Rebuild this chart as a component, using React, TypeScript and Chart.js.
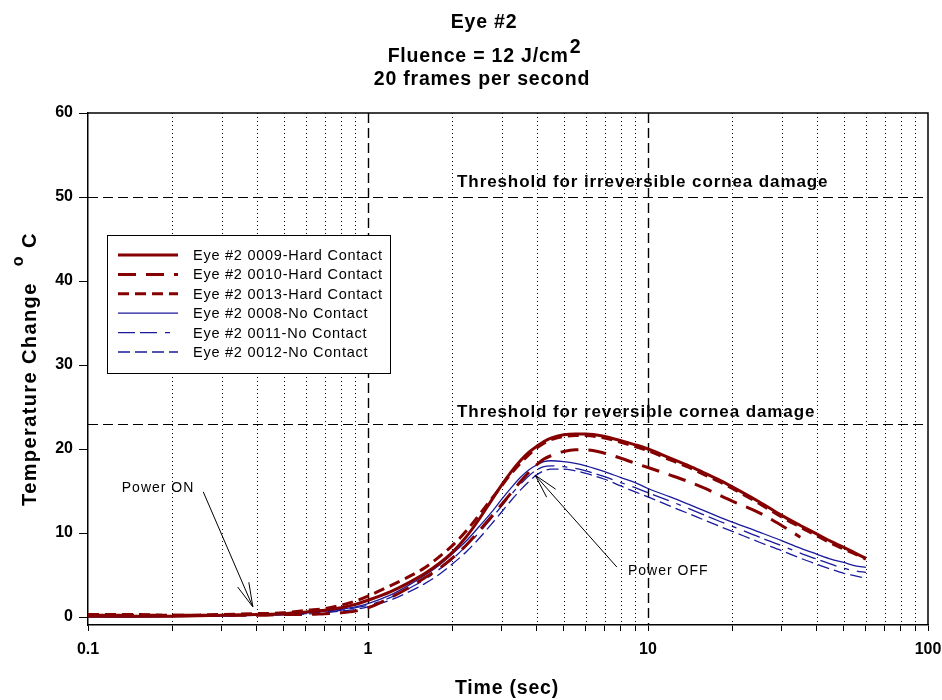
import React, { useEffect, useRef } from 'react';
import { Chart, registerables } from 'chart.js';

Chart.register(...registerables);

const FONT = '"Liberation Sans", Arial, Helvetica, sans-serif';

// ---------- data ----------
const time = [0.1, 0.15, 0.2, 0.3, 0.4, 0.5, 0.6, 0.7, 0.8, 0.9, 1, 1.2, 1.4, 1.6, 1.8, 2, 2.25, 2.5, 2.75, 3, 3.25, 3.5, 3.75, 4, 4.25, 4.5, 5, 5.5, 6, 7, 8, 9, 10, 12, 14, 16, 18, 20, 25, 30, 35, 40, 45, 50, 55, 60];

const hard0009 = [0.1, 0.1, 0.1, 0.2, 0.3, 0.4, 0.6, 0.8, 1.1, 1.5, 2.0, 3.0, 4.1, 5.2, 6.4, 7.7, 9.6, 11.7, 13.8, 15.7, 17.3, 18.6, 19.6, 20.3, 20.9, 21.3, 21.7, 21.8, 21.8, 21.5, 21.0, 20.5, 20.0, 18.9, 18.0, 17.1, 16.3, 15.5, 13.7, 12.1, 10.9, 9.9, 9.0, 8.3, 7.6, 7.0];
const hard0010 = [0.2, 0.2, 0.2, 0.2, 0.2, 0.3, 0.3, 0.4, 0.5, 0.7, 1.1, 2.3, 3.5, 4.7, 5.8, 7.0, 8.6, 10.3, 11.9, 13.4, 14.8, 16.1, 17.2, 18.1, 18.8, 19.2, 19.7, 19.9, 19.9, 19.5, 18.9, 18.3, 17.8, 16.9, 16.1, 15.3, 14.5, 13.8, 12.4, 10.9, 9.5, null, null, null, null, null];
const hard0013 = [0.3, 0.3, 0.2, 0.3, 0.4, 0.5, 0.8, 1.0, 1.4, 1.9, 2.5, 3.7, 4.8, 5.9, 7.2, 8.5, 10.3, 12.2, 14.0, 15.6, 17.1, 18.3, 19.3, 20.1, 20.7, 21.1, 21.5, 21.6, 21.6, 21.3, 20.8, 20.3, 19.8, 18.7, 17.8, 16.9, 16.1, 15.3, 13.5, 11.9, 10.7, 9.7, 8.8, 8.1, 7.5, 6.9];
const no0008 = [0.0, 0.0, 0.05, 0.15, 0.25, 0.35, 0.5, 0.7, 0.9, 1.2, 1.6, 2.6, 3.8, 5.0, 6.2, 7.5, 9.1, 10.8, 12.4, 14.0, 15.4, 16.6, 17.5, 18.1, 18.5, 18.6, 18.5, 18.3, 18.0, 17.3, 16.6, 16.0, 15.3, 14.3, 13.4, 12.6, 11.9, 11.3, 10.1, 9.1, 8.2, 7.5, 6.9, 6.5, 6.1, 5.9];
const no0011 = [0.1, 0.1, 0.1, 0.15, 0.2, 0.3, 0.4, 0.6, 0.8, 1.1, 1.4, 2.3, 3.4, 4.5, 5.7, 6.9, 8.5, 10.1, 11.7, 13.2, 14.6, 15.8, 16.8, 17.5, 17.9, 18.0, 17.9, 17.7, 17.4, 16.7, 16.0, 15.4, 14.8, 13.8, 12.9, 12.1, 11.4, 10.8, 9.5, 8.5, 7.6, 6.9, 6.3, 5.8, 5.5, 5.3];
const no0012 = [0.05, 0.05, 0.1, 0.1, 0.2, 0.25, 0.35, 0.5, 0.7, 0.9, 1.2, 2.0, 3.0, 4.0, 5.1, 6.3, 7.8, 9.4, 11.0, 12.5, 13.9, 15.1, 16.1, 16.9, 17.4, 17.6, 17.6, 17.4, 17.1, 16.4, 15.6, 14.9, 14.3, 13.2, 12.3, 11.5, 10.8, 10.2, 8.9, 7.9, 7.0, 6.3, 5.7, 5.2, 4.9, 4.6];

const seriesLabels = [
  'Eye #2 0009-Hard Contact',
  'Eye #2 0010-Hard Contact',
  'Eye #2 0013-Hard Contact',
  'Eye #2 0008-No Contact',
  'Eye #2 0011-No Contact',
  'Eye #2 0012-No Contact',
];
const seriesValues = [hard0009, hard0010, hard0013, no0008, no0011, no0012];

const xTickValues = [0.1, 0.2, 0.3, 0.4, 0.5, 0.6, 0.7, 0.8, 0.9, 1, 2, 3, 4, 5, 6, 7, 8, 9, 10, 20, 30, 40, 50, 60, 70, 80, 90, 100];
const xLabelValues = [0.1, 1, 10, 100];
const xMajorGrid = [1, 10];
const yTickValues = [0, 10, 20, 30, 40, 50, 60];

const thresholdValues = [50, 23];
const thresholdLabels = ['Threshold for irreversible cornea damage', 'Threshold for reversible cornea damage'];

const titleLines = ['Eye #2', 'Fluence = 12 J/cm', '20 frames per second'];
const titleSup = '2';
const xAxisTitle = 'Time (sec)';
const yAxisTitle = 'Temperature Change';

// annotations: text anchor (left, middle) and arrow tail -> tip, in data units
const annotationTexts = ['Power ON', 'Power OFF'];
const annotationTextAt = [[0.132, 15.4], [8.48, 5.5]];
const annotationArrowFrom = [[0.258, 14.9], [7.74, 5.95]];
const annotationArrowTo = [[0.388, 1.2], [3.95, 16.9]];

// ---------- styles ----------
const RED = '#850000';
const BLUE = '#1a1a9c';
const seriesStyles = [
  { color: RED, width: 3, dash: [] as number[] },
  { color: RED, width: 3, dash: [18, 10] },
  { color: RED, width: 3, dash: [11, 6] },
  { color: BLUE, width: 1.3, dash: [] as number[] },
  { color: BLUE, width: 1.3, dash: [17, 5, 17, 8, 5, 8] },
  { color: BLUE, width: 1.3, dash: [12, 5] },
];

function spacing(ctx: any, px: number) {
  ctx.letterSpacing = px + 'px';
}

const decorPlugin = {
  id: 'decor',
  beforeDatasetsDraw(chart: any) {
    const { ctx, chartArea: a } = chart;
    const x = chart.scales.x;
    const y = chart.scales.y;
    ctx.save();
    ctx.strokeStyle = '#000';
    for (const v of xTickValues) {
      if (v === xTickValues[0] || v === xTickValues[xTickValues.length - 1]) continue;
      const px = Math.round(x.getPixelForValue(v)) + 0.5;
      const major = xMajorGrid.includes(v);
      ctx.lineWidth = major ? 1.4 : 1;
      ctx.setLineDash(major ? [10, 5] : [1, 3]);
      ctx.beginPath();
      ctx.moveTo(px, a.top);
      ctx.lineTo(px, a.bottom);
      ctx.stroke();
    }
    ctx.lineWidth = 1.2;
    ctx.setLineDash([10, 5]);
    for (const t of thresholdValues) {
      const py = Math.round(y.getPixelForValue(t)) + 0.5;
      ctx.beginPath();
      ctx.moveTo(a.left, py);
      ctx.lineTo(a.right, py);
      ctx.stroke();
    }
    ctx.setLineDash([]);
    ctx.lineWidth = 1.5;
    ctx.beginPath();
    ctx.moveTo(a.left, a.top);
    ctx.lineTo(a.right, a.top);
    ctx.lineTo(a.right, a.bottom);
    ctx.stroke();
    ctx.restore();
  },
  afterDatasetsDraw(chart: any) {
    const { ctx } = chart;
    const x = chart.scales.x;
    const y = chart.scales.y;
    ctx.save();
    ctx.fillStyle = '#000';
    ctx.strokeStyle = '#000';

    // threshold labels
    ctx.font = `bold 17px ${FONT}`;
    spacing(ctx, 0.9);
    ctx.textAlign = 'left';
    ctx.textBaseline = 'alphabetic';
    const labelX = x.getPixelForValue(2.08);
    thresholdValues.forEach((t, i) => {
      ctx.fillText(thresholdLabels[i], labelX, y.getPixelForValue(t) - (i === 0 ? 10 : 7));
    });

    // legend
    const lx = 107, ly = 235, lw = 283, lh = 138;
    ctx.fillStyle = '#fff';
    ctx.fillRect(lx, ly, lw, lh);
    ctx.lineWidth = 1;
    ctx.strokeStyle = '#000';
    ctx.strokeRect(lx + 0.5, ly + 0.5, lw, lh);
    ctx.font = `14.5px ${FONT}`;
    spacing(ctx, 0.75);
    ctx.textBaseline = 'middle';
    seriesLabels.forEach((lab, i) => {
      const ry = 255 + i * 19.4;
      const st = seriesStyles[i];
      ctx.strokeStyle = st.color;
      ctx.lineWidth = st.width;
      ctx.setLineDash(st.dash);
      ctx.beginPath();
      ctx.moveTo(118, ry);
      ctx.lineTo(178, ry);
      ctx.stroke();
      ctx.setLineDash([]);
      ctx.fillStyle = '#000';
      ctx.fillText(lab, 193, ry + 1);
    });

    // annotations
    ctx.font = `14px ${FONT}`;
    spacing(ctx, 1);
    ctx.fillStyle = '#000';
    ctx.strokeStyle = '#000';
    ctx.lineWidth = 1;
    annotationTexts.forEach((txt, i) => {
      const tx = x.getPixelForValue(annotationTextAt[i][0]);
      const ty = y.getPixelForValue(annotationTextAt[i][1]);
      ctx.textAlign = 'left';
      ctx.textBaseline = 'middle';
      ctx.fillStyle = '#000';
      ctx.fillText(txt, tx, ty);
      const x0 = x.getPixelForValue(annotationArrowFrom[i][0]);
      const y0 = y.getPixelForValue(annotationArrowFrom[i][1]);
      const x1 = x.getPixelForValue(annotationArrowTo[i][0]);
      const y1 = y.getPixelForValue(annotationArrowTo[i][1]);
      ctx.beginPath();
      ctx.moveTo(x0, y0);
      ctx.lineTo(x1, y1);
      const ang = Math.atan2(y0 - y1, x0 - x1);
      const hl = 25, ha = (14 * Math.PI) / 180;
      ctx.moveTo(x1, y1);
      ctx.lineTo(x1 + hl * Math.cos(ang - ha), y1 + hl * Math.sin(ang - ha));
      ctx.moveTo(x1, y1);
      ctx.lineTo(x1 + hl * Math.cos(ang + ha), y1 + hl * Math.sin(ang + ha));
      ctx.stroke();
    });

    // titles
    ctx.fillStyle = '#000';
    ctx.textBaseline = 'alphabetic';
    ctx.font = `bold 19.5px ${FONT}`;
    spacing(ctx, 0.8);
    ctx.textAlign = 'center';
    ctx.fillText(titleLines[0], 484, 28);
    ctx.textAlign = 'left';
    const w1 = ctx.measureText(titleLines[1]).width;
    const w2 = ctx.measureText(titleSup).width;
    const sx = 484 - (w1 + w2) / 2;
    ctx.fillText(titleLines[1], sx, 62);
    ctx.fillText(titleSup, sx + w1 + 1, 53);
    ctx.textAlign = 'center';
    ctx.fillText(titleLines[2], 482, 85);

    // x axis title
    ctx.fillText(xAxisTitle, 507, 694);

    // y axis title (rotated) with superscript degree
    ctx.save();
    ctx.translate(36, 506);
    ctx.rotate(-Math.PI / 2);
    ctx.textAlign = 'left';
    ctx.font = `bold 20px ${FONT}`;
    spacing(ctx, 1.4);
    ctx.fillText(yAxisTitle, 0, 0);
    const wy = ctx.measureText(yAxisTitle).width;
    ctx.font = `bold 16px ${FONT}`;
    ctx.fillText('o', wy + 16, -13);
    const wo = ctx.measureText('o').width;
    ctx.font = `bold 20px ${FONT}`;
    ctx.fillText('C', wy + 16 + wo + 7, 0);
    ctx.restore();

    ctx.restore();
  },
};

export default function App() {
  const ref = useRef<HTMLCanvasElement>(null);
  useEffect(() => {
    document.body.style.margin = '0';
    const datasets = seriesLabels.map((label, i) => ({
      label,
      data: time
        .map((t, j) => ({ x: t, y: seriesValues[i][j] }))
        .filter((p) => p.y !== null && p.y !== undefined),
      borderColor: seriesStyles[i].color,
      backgroundColor: seriesStyles[i].color,
      borderWidth: seriesStyles[i].width,
      borderDash: seriesStyles[i].dash,
      pointRadius: 0,
      fill: false,
      cubicInterpolationMode: 'monotone' as const,
    }));
    const chart = new Chart(ref.current as HTMLCanvasElement, {
      type: 'line',
      data: { datasets },
      plugins: [decorPlugin],
      options: {
        animation: false,
        responsive: false,
        devicePixelRatio: 1,
        layout: { padding: { top: 113, right: 14, left: 0, bottom: 0 } },
        plugins: {
          legend: { display: false },
          title: { display: false },
          tooltip: { enabled: false },
        },
        scales: {
          x: {
            type: 'logarithmic',
            min: 0.1,
            max: 100,
            afterBuildTicks: (scale: any) => {
              scale.ticks = xTickValues.map((v) => ({ value: v }));
            },
            afterFit: (scale: any) => {
              scale.height = 75;
              scale.paddingLeft = 0;
              scale.paddingRight = 0;
            },
            ticks: {
              autoSkip: false,
              maxRotation: 0,
              minRotation: 0,
              padding: 9,
              color: '#000',
              font: { family: FONT, size: 16, weight: 'bold' },
              callback: (v: any) => (xLabelValues.includes(Number(v)) ? String(v) : ''),
            },
            grid: {
              drawOnChartArea: false,
              drawTicks: true,
              tickLength: 6,
              tickColor: '#000',
              tickWidth: 1,
            },
            border: { display: true, color: '#000', width: 1.5 },
          },
          y: {
            type: 'linear',
            min: -0.95,
            max: 60,
            afterBuildTicks: (scale: any) => {
              scale.ticks = yTickValues.map((v) => ({ value: v }));
            },
            afterFit: (scale: any) => {
              scale.width = 88;
              scale.paddingTop = 0;
              scale.paddingBottom = 0;
            },
            ticks: {
              padding: 6,
              color: '#000',
              font: { family: FONT, size: 16, weight: 'bold' },
              callback: (v: any) => String(v),
            },
            grid: {
              drawOnChartArea: false,
              drawTicks: true,
              tickLength: 9,
              tickColor: '#000',
              tickWidth: 1,
            },
            border: { display: true, color: '#000', width: 1.5 },
          },
        },
      } as any,
    });
    return () => chart.destroy();
  }, []);
  return (
    <canvas
      ref={ref}
      width={942}
      height={700}
      style={{ display: 'block', width: 942, height: 700 }}
    />
  );
}
